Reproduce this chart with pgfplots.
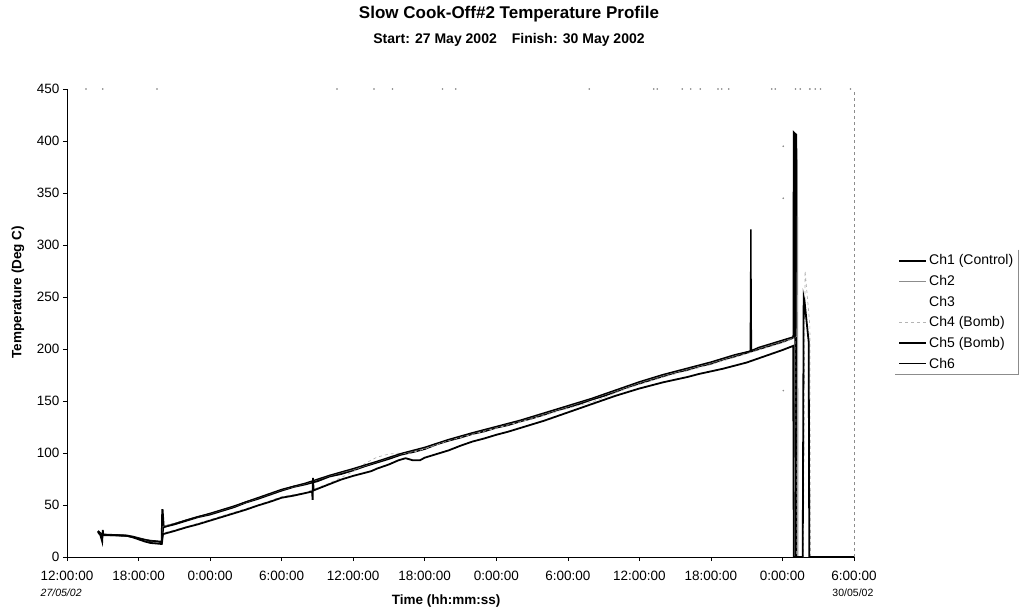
\documentclass[border=0pt]{standalone}
\usepackage{fontspec}
\setmainfont{Liberation Sans}
\usepackage{pgfplots}
\pgfplotsset{compat=1.18}
\definecolor{cGry}{HTML}{8C8C8C}
\definecolor{cLgt}{HTML}{B4B4B4}
\newcommand\fsz[1]{\fontsize{#1}{#1}\selectfont}

\begin{document}
\begin{tikzpicture}
\begin{axis}[name=ax,
  width=787pt,height=468pt,scale only axis,
  xmin=0,xmax=66,ymin=0,ymax=450,clip=false,
  axis x line*=bottom,axis y line*=left,
  axis line style={-,black,line width=0.8pt},
  tick align=outside,major tick length=4pt,
  tick style={black,line width=0.6pt},
  xtick={0,6,...,66},ytick={0,50,...,450},
  xticklabels={{12:00:00\\[2pt]{\fsz{10.5}\itshape 27/05/02}},18:00:00,0:00:00,6:00:00,12:00:00,18:00:00,0:00:00,6:00:00,12:00:00,18:00:00,0:00:00,{6:00:00\\[2pt]{\fsz{10.5}\hspace*{1pt}30/05/02}}},
  xticklabel style={font=\fsz{13.5},align=left,anchor=north,yshift=-9pt,inner sep=1pt},
  yticklabel style={font=\fsz{13.5},/pgf/number format/assume math mode=true},
  legend style={name=leg,at={(axis description cs:1.052,0.657)},anchor=north west,
    draw=none,fill=white,font=\fsz{14},row sep=5pt,inner sep=3pt,
    cells={anchor=west}},
  legend image code/.code={\draw[#1] (0pt,0pt) -- (27pt,0pt);},
  after end axis/.code={\draw[cGry,dashed,line width=0.6pt] (rel axis cs:1,0) -- (rel axis cs:1,1);},
]
% Ch1 (Control) - upper trace, burst spike at the end
\addplot[black,line width=2.1pt] coordinates {
(2.6,25)(2.8,22)(3.0,21.5)(4,21)(5,20.5)(5.5,19.5)(6,18)(6.5,16.5)(7,15.5)(7.5,15)(7.95,14.5)
(8.0,46)(8.1,29)(9,31.5)(10,35)(11,38.5)(12,41)(13,44.5)(14,48)(15,52.5)(16,56)(17,60)(18,64)
(19,67.5)(20,70)(21,73)(22,77.5)(23,80)(24,83.5)(25,87.5)(26,91)(27,94.5)(28,98.5)(29,101)(30,104)
(31,108.5)(32,112)(33,115)(34,118.5)(35,121)(36,124.5)(37,127)(38,130.5)(39,133.5)(40,137)
(41,141)(42,144)(43,147.5)(44,151.5)(45,155)(46,159)(47,163.5)(48,167)(49,170.5)(50,174)
(51,177.5)(52,180)(53,183.5)(54,186)(55,190)(56,193)(57,196.5)(58,200)(59,203.5)(60,207)
(60.93,211)(60.96,408)(61.14,406)(61.17,0)};
\addlegendentry{Ch1 (Control)}
% Ch2
\addplot[cGry,line width=0.6pt] coordinates {
(2.6,25)(3.0,21.5)(4,21)(5,20.5)(6,18)(7,15.5)(7.95,14.5)(8.05,29.5)(10,35.5)(12,41.5)(14,48.5)
(16,56.5)(18,64.5)(20,70.5)(22,78)(24,84)(26,91.5)(28,99)(30,104.5)(32,112.5)(34,119)(36,125)
(38,131)(40,137.5)(42,144.5)(44,152)(46,159.5)(48,167.5)(50,174.5)(52,180.5)(54,186.5)(56,193.5)
(58,200.5)(60,207.5)(61.2,212)(61.27,393)(61.32,0)};
\addlegendentry{Ch2}
% Ch3 - only stray readings at the top of the scale
\addplot[only marks,mark=*,mark size=0.6pt,cGry,legend image code/.code={}] coordinates {
(1.6,450)(3.0,450)(7.55,450)(22.65,450)(25.75,450)(27.3,450)(31.5,450)(32.6,450)(43.8,450)
(49.2,450)(49.5,450)(51.6,450)(52.3,450)(53.1,450)(54.6,450)(54.9,450)(55.5,450)(59.1,450)
(59.4,450)(61.1,450)(61.5,450)(62.3,450)(62.75,450)(63.2,450)(65.7,450)
(60.07,395)(60.07,345)(60.07,160)};
\addlegendentry{Ch3}
% Ch4 (Bomb)
\addplot[cLgt,dashed,line width=0.7pt] coordinates {
(2.6,24)(3,21)(4,21)(5,20.5)(6,17.5)(7,14.5)(7.95,13.5)(8.05,23)(10,29)(12,36)(14,43)(16,50)
(18,58)(20,62)(22,71)(24,82)(25,90)(26,96)(27,99)(28,100)(28.5,99)(30,104)(32,112)(34,118)
(36,124)(38,130)(40,136)(42,143)(43,146)(44,149)(45,153)(46,158)(48,166)(50,173)(52,179)
(54,185)(56,192)(58,199)(60,206)(61.1,211)(61.15,0)(61.75,0)(61.9,275)(62.3,222)(62.35,0)};
\addlegendentry{Ch4 (Bomb)}
% Ch5 (Bomb) - lower trace
\addplot[black,line width=1.8pt] coordinates {
(2.6,24)(2.8,21)(2.95,15)(3.0,26)(3.05,21)(4,21)(5,20.5)(5.5,19)(6,17)(6.5,15)(7,13.5)(7.5,13)
(7.95,12.5)(8.05,22)(9,25)(10,28.5)(11,31.5)(12,35)(13,38.5)(14,42)(15,45.5)(16,49.5)(17,53)
(18,57)(19,59)(20,61.5)(20.55,63)(20.6,55)(20.63,76)(20.68,64)(21,65.5)(22,70)(23,74.5)(24,78)
(25,81)(25.5,82.5)(26,85)(27,89)(27.8,93)(28.4,95)(29,93)(29.6,93)(30,95.5)(31,99)(32,102.5)
(33,107)(34,111)(35,114)(36,117.5)(37,120.5)(38,124)(39,127.5)(40,131)(41,135)(42,139)(43,143)
(44,147)(45,151)(46,155)(47,158.5)(48,162)(49,165)(50,168)(51,170.5)(52,173)(53,176)(54,178.5)
(55,181)(56,184)(57,187)(58,191)(59,195)(60,199)(60.9,203)(60.95,0)(61.7,0)(61.78,250)(61.85,246)
(62.2,207)(62.25,0)(66,0)};
\addlegendentry{Ch5 (Bomb)}
% Ch6 - upper trace, spike at 57.35 h
\addplot[black,line width=1.3pt] coordinates {
(2.6,25)(3,21.5)(4,21)(5,20.5)(6,18)(7,15.5)(7.95,14.5)(8.1,28.5)(10,35.5)(12,42)(14,49)(16,57)
(18,65)(20,71)(22,78.5)(24,85)(26,92)(28,99.5)(30,105.5)(32,113)(34,119.5)(36,125.5)(38,131.5)(40,138.5)
(42,145.5)(44,152.5)(46,160.5)(48,168.5)(50,175.5)(52,181.5)(54,187.5)(56,194.5)(57.3,198)(57.35,315)(57.4,198.5)
(58,201.5)(60,208.5)(61.0,212)(61.03,310)(61.08,0)};
\addlegendentry{Ch6}
\node[font=\bfseries\fsz{13.5}] at (axis description cs:0.4816,-0.094) {Time (hh:mm:ss)};
\node[font=\bfseries\fsz{13.5},rotate=90] at (axis description cs:-0.0623,0.566) {Temperature (Deg C)};
\end{axis}
\draw[cGry,line width=0.6pt] (leg.north east) -- (leg.south east) -- (leg.south west);
\node[font=\bfseries\fsz{17}] at ([shift={(442pt,543pt)}]ax.south west) {Slow Cook-Off\#2 Temperature Profile};
\node[font=\bfseries\fsz{14}] at ([shift={(442pt,517pt)}]ax.south west) {Start: 27 May 2002\hspace{15pt}Finish: 30 May 2002};
\pgfresetboundingbox
\path ([shift={(-67pt,-54pt)}]ax.south west) rectangle ([shift={(953pt,557pt)}]ax.south west);
\end{tikzpicture}
\end{document}
